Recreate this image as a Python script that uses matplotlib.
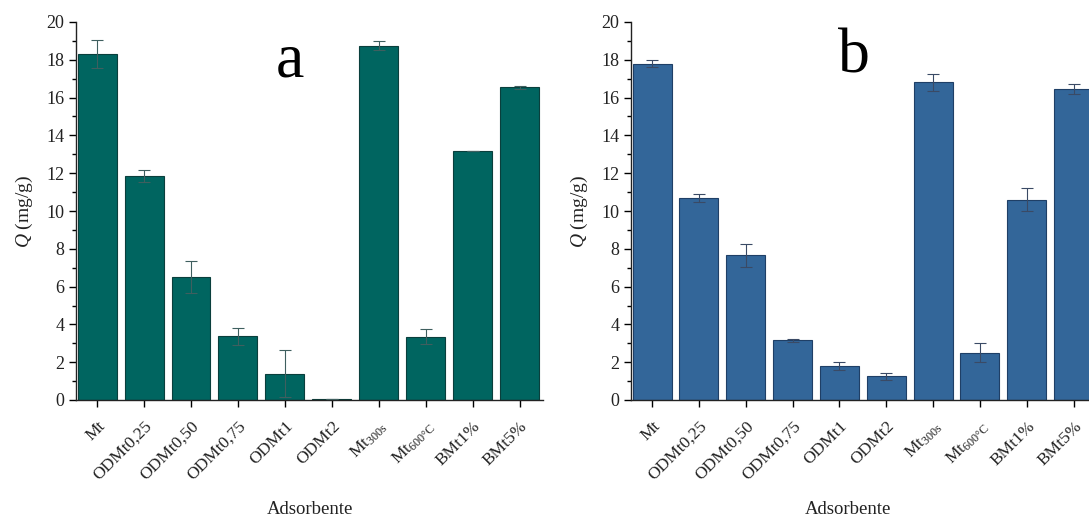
import matplotlib
matplotlib.use("Agg")
import matplotlib.pyplot as plt
from matplotlib.ticker import MultipleLocator

plt.rcParams['font.family'] = ['Liberation Serif', 'DejaVu Serif']
plt.rcParams['mathtext.fontset'] = 'custom'
plt.rcParams['mathtext.rm'] = 'Liberation Serif'
plt.rcParams['mathtext.it'] = 'Liberation Serif:italic'

categories = ['Mt', 'ODMt0,25', 'ODMt0,50', 'ODMt0,75', 'ODMt1', 'ODMt2',
              r'Mt$_{\mathrm{300s}}$', r'Mt$_{\mathrm{600°C}}$', 'BMt1%', 'BMt5%']

q_a = [18.3, 11.85, 6.5, 3.38, 1.4, 0.05, 18.75, 3.35, 13.2, 16.55]
err_a = [0.75, 0.3, 0.85, 0.45, 1.25, 0.0, 0.25, 0.4, 0.0, 0.08]

q_b = [17.8, 10.7, 7.65, 3.15, 1.8, 1.25, 16.8, 2.5, 10.6, 16.45]
err_b = [0.2, 0.22, 0.6, 0.1, 0.22, 0.2, 0.45, 0.5, 0.6, 0.25]

W, H = 1089, 519
fig = plt.figure(figsize=(W / 100, H / 100), dpi=100)


def px_axes(x0, x1, y_top, y_bot):
    return fig.add_axes([x0 / W, (H - y_bot) / H, (x1 - x0) / W, (y_bot - y_top) / H])


def draw(ax, vals, errs, color, edge, ecol, letter, lx, ly):
    x = list(range(len(categories)))
    ax.bar(x, vals, width=0.83, color=color, edgecolor=edge, linewidth=0.8, zorder=2)
    ax.errorbar(x, vals, yerr=errs, fmt='none', ecolor=ecol, elinewidth=0.8,
                capsize=4, capthick=0.8, zorder=3)
    ax.set_xlim(-0.45, 9.5)
    ax.set_ylim(0, 20)
    ax.yaxis.set_major_locator(MultipleLocator(2))
    ax.yaxis.set_minor_locator(MultipleLocator(1))
    ax.set_xticks(x)
    ax.set_xticklabels(categories, rotation=45, ha='right', rotation_mode='anchor',
                       fontsize=12.5, color='#222222')
    ax.tick_params(axis='y', labelsize=13, labelcolor='#222222', length=5, width=1)
    ax.tick_params(axis='y', which='minor', length=3, width=1)
    ax.tick_params(axis='x', length=5, width=1, pad=8)
    for s in ['top', 'right']:
        ax.spines[s].set_visible(False)
    for s in ['left', 'bottom']:
        ax.spines[s].set_linewidth(1.0)
        ax.spines[s].set_color('#222222')
    ax.set_ylabel(r'$\mathit{Q}$ (mg/g)', fontsize=14, color='#222222', labelpad=8)
    ax.text(lx, ly, letter, fontsize=46, ha='center', va='center', color='black')


ax_a = px_axes(76, 543, 22, 400)
draw(ax_a, q_a, err_a, '#006560', '#0a3f3c', '#3f5f5f', 'a', 4.1, 17.9)
ax_b = px_axes(631, 1097, 22, 400)
draw(ax_b, q_b, err_b, '#336699', '#1f3f66', '#3a4a65', 'b', 4.3, 18.1)

fig.text(310 / W, 1 - 510 / H, 'Adsorbente', ha='center', va='center', fontsize=13.5, color='#222222')
fig.text(848 / W, 1 - 510 / H, 'Adsorbente', ha='center', va='center', fontsize=13.5, color='#222222')

fig.savefig('out.png', dpi=100)
